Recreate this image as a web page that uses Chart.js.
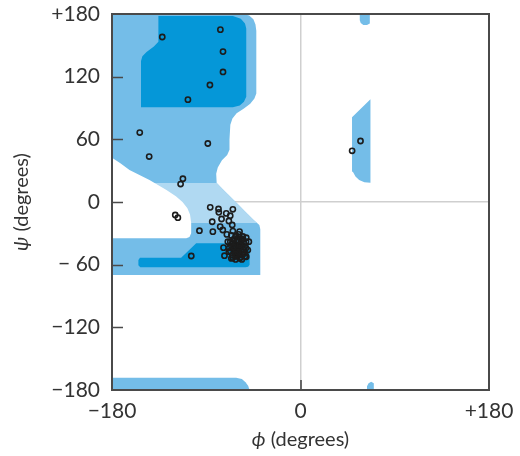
<!DOCTYPE html>
<html>
<head>
<meta charset="utf-8">
<script src="https://cdn.jsdelivr.net/npm/chart.js@4.4.1/dist/chart.umd.min.js"></script>
<style>
  html, body { margin: 0; padding: 0; background: #fff; }
  #wrap { width: 520px; height: 456px; }
</style>
</head>
<body>
<div id="wrap"><canvas id="rama"></canvas></div>
<script>
// ---- axes ----
const phiTicks = [-180, 0, 180];
const phiTickLabels = ["\u2212180", "0", "+180"];
const psiTicks = [-180, -120, -60, 0, 60, 120, 180];
const psiTickLabels = ["\u2212180", "\u2212120", "\u2212 60", "0", "60", "120", "+180"];

// ---- allowed regions, [phi, psi] outlines in degrees ----
const allowedLeft = [
  [-180, 180], [-55, 180], [-49, 178.5], [-45, 175], [-43, 170], [-42.2, 164],
  [-42.2, 104], [-44, 99], [-48, 94], [-54, 89.5], [-61, 85], [-65, 80], [-67, 74], [-67.8, 60],
  [-67.8, 50], [-70, 45], [-75, 40], [-79, 33], [-80.5, 27], [-80.2, 21], [-79.9, 18.2],
  [-74, 12], [-67, 5], [-60, -2], [-52, -10], [-45, -17], [-41.5, -20.1],
  [-39.3, -22], [-38.4, -26], [-38.4, -70], [-180, -70]
];
const allowedBottom = [
  [-180, -180], [-180, -168.2], [-61.4, -168.2], [-56, -169.5], [-52.5, -172.5], [-50, -176], [-48.6, -180]
];
const allowedLeftHanded = [
  [49.2, 81.1], [66.8, 98.3], [66.8, 18.5], [61, 19], [56, 21], [52.5, 24.5], [50, 29], [49.2, 34]
];
const allowedTopRight = [
  [56.6, 181], [56.6, 174], [57.5, 171.5], [60, 169.5], [63.5, 169.5], [66.2, 171], [66.2, 181]
];
const allowedBottomRight = [
  [63.5, -181], [63.5, -176.5], [65, -173.5], [67.5, -172], [70, -173.5], [70, -181]
];
const bridgeRegion = [
  [-180, 18.2], [-79.9, 18.2], [-74, 12], [-67, 5], [-60, -2], [-52, -10], [-45, -17],
  [-41.5, -20.1], [-180, -20.1]
];
const coreBeta = [
  [-135.7, 178], [-135.7, 153.5], [-140, 149], [-147, 143.5], [-151, 139.5], [-152.3, 135],
  [-152.3, 90.7], [-64.6, 90.7], [-58, 92.5], [-54, 96], [-51.8, 100.8], [-51.8, 166],
  [-53, 171], [-57, 175.5], [-64.6, 178]
];
const coreAlpha = [
  [-154.8, -55.5], [-153.3, -53.3], [-114, -53.3], [-99.6, -39.6], [-53, -39.6], [-50, -41],
  [-48.6, -44], [-48.6, -60], [-50, -62], [-52.5, -62.5], [-153, -62.5], [-154.8, -60.5]
];
const disallowedGap = [
  [-181, 43.1], [-172, 37], [-163.3, 30.6], [-144.2, 21.1], [-128, 11.5], [-119, 5.5],
  [-112.7, 0], [-108, -6], [-105.5, -12], [-104.4, -20.1], [-104.4, -30], [-106, -33.5],
  [-109, -34.6], [-181, -34.6]
];

// ---- residues (phi, psi) ----
const residuePhi = [
  -132, -76.5, -74, -74, -86.5, -107.5, -153.5, -88.5, -144.5, -112.3, -114.5, -119.6, -117.1, -104.3,
  49.3, 57.3,
  -86.2, -78.3, -78, -70.9, -64.6, -67.1, -75.4, -84.3, -68.4, -76.7, -96.5, -83.7, -74.2, -65.2,
  -70.3, -64.6, -58.2, -51.8, -49.3, -53.4, -50.3, -51.8, -58.2, -64.6, -72.6, -73.5, -68.4, -69.4,
  -66, -62, -58, -55, -64, -60, -67, -57, -63, -60, -54, -66, -62, -58, -56, -64, -61, -57, -54,
  -67, -63, -59, -55, -65, -61, -57, -53, -62, -59, -61, -65, -59, -55, -52, -52, -68, -60, -63,
  -57, -62, -56, -66, -53, -58, -64
];
const residuePsi = [
  158, 165, 144, 124.5, 112, 98, 66.5, 56, 43.5, 22.3, 17.2, -12.4, -15, -51.7,
  49, 58.4,
  -5.1, -6.7, -9.9, -10.9, -7, -13.1, -16.3, -18.9, -18.2, -23.6, -27.5, -28.4, -26.8, -22,
  -31, -27.8, -28.4, -34.2, -38, -42.8, -46, -52.4, -53.9, -53.3, -51.4, -43.7, -47.6, -38,
  -32, -33, -34, -36, -36, -37, -38, -39, -40, -41, -40, -42, -43, -44, -42, -45, -46, -47, -46,
  -47, -49, -50, -50, -51, -52, -53, -52, -55, -44, -38, -39, -31, -33, -38, -44, -44, -48, -35,
  -36, -50, -55, -54, -49, -41, -43
];

const MEDIUM = "#74bde8";
const LIGHT = "#b0d9f2";
const DARK = "#0597d8";
const LABEL_FONT = "Lato";

function region(outline, color, order) {
  return {
    data: outline.map(([x, y]) => ({ x, y })),
    showLine: true,
    fill: "shape",
    backgroundColor: color,
    borderColor: "rgba(0,0,0,0)",
    borderWidth: 0.5,
    pointRadius: 0,
    order,
  };
}

const framePlugin = {
  id: "frame",
  afterDatasetsDraw(chart) {
    const { ctx, chartArea: a, scales } = chart;
    ctx.save();
    ctx.strokeStyle = "#4a4a4a";
    ctx.lineWidth = 2;
    ctx.strokeRect(a.left, a.top, a.right - a.left, a.bottom - a.top);
    ctx.lineWidth = 1.6;
    ctx.beginPath();
    psiTicks.slice(1, -1).forEach((v) => {
      const y = Math.round(scales.y.getPixelForValue(v)) + 0.5;
      ctx.moveTo(a.left, y);
      ctx.lineTo(a.left + 11, y);
    });
    const x0 = Math.round(scales.x.getPixelForValue(0));
    ctx.moveTo(x0, a.bottom);
    ctx.lineTo(x0, a.bottom - 10);
    ctx.stroke();
    ctx.restore();
  },
  afterDraw(chart) {
    const { ctx, chartArea: a } = chart;
    const drawTitle = (sym, rest, cx, cy, angle) => {
      ctx.save();
      ctx.translate(cx, cy);
      ctx.rotate(angle);
      ctx.fillStyle = "#333";
      ctx.textBaseline = "middle";
      ctx.font = "italic 20px '" + LABEL_FONT + "'";
      const w1 = ctx.measureText(sym).width;
      ctx.font = "20px '" + LABEL_FONT + "'";
      const w2 = ctx.measureText(rest).width;
      let x = -(w1 + w2) / 2;
      ctx.textAlign = "left";
      ctx.font = "italic 20px '" + LABEL_FONT + "'";
      ctx.fillText(sym, x, 0);
      ctx.font = "20px '" + LABEL_FONT + "'";
      ctx.fillText(rest, x + w1, 0);
      ctx.restore();
    };
    drawTitle("\u03d5", " (degrees)", (a.left + a.right) / 2, 440, 0);
    drawTitle("\u03c8", " (degrees)", 22, (a.top + a.bottom) / 2, -Math.PI / 2);
  },
};

new Chart(document.getElementById("rama"), {
  type: "scatter",
  data: {
    datasets: [
      {
        data: residuePhi.map((x, i) => ({ x, y: residuePsi[i] })),
        pointRadius: 2.6,
        pointBorderWidth: 1.6,
        borderColor: "#1c1c1c",
        backgroundColor: "rgba(0,0,0,0)",
        order: 0,
      },
      region(disallowedGap, "#ffffff", 1),
      region(coreBeta, DARK, 2),
      region(coreAlpha, DARK, 2),
      region(bridgeRegion, LIGHT, 3),
      region(allowedLeft, MEDIUM, 4),
      region(allowedBottom, MEDIUM, 4),
      region(allowedLeftHanded, MEDIUM, 4),
      region(allowedTopRight, MEDIUM, 4),
      region(allowedBottomRight, MEDIUM, 4),
    ],
  },
  options: {
    responsive: true,
    maintainAspectRatio: false,
    animation: false,
    layout: { padding: { top: 14, right: 31, left: 0, bottom: 0 } },
    plugins: { legend: { display: false }, tooltip: { enabled: false } },
    scales: {
      x: {
        type: "linear",
        min: -180,
        max: 180,
        afterBuildTicks: (s) => { s.ticks = phiTicks.map((value) => ({ value })); },
        afterFit: (s) => { s.height = 66; s.paddingLeft = 0; s.paddingRight = 0; },
        border: { display: false },
        grid: {
          drawTicks: false,
          lineWidth: 1.5,
          color: (c) => (c.tick && c.tick.value === 0 ? "#cfcfcf" : "rgba(0,0,0,0)"),
        },
        ticks: {
          padding: 9,
          color: "#333",
          font: { family: LABEL_FONT, size: 21 },
          maxRotation: 0,
          callback: (v) => phiTickLabels[phiTicks.indexOf(v)],
        },
      },
      y: {
        type: "linear",
        min: -180,
        max: 180,
        afterBuildTicks: (s) => { s.ticks = psiTicks.map((value) => ({ value })); },
        afterFit: (s) => { s.width = 112; s.paddingTop = 0; s.paddingBottom = 0; },
        border: { display: false },
        grid: {
          drawTicks: false,
          lineWidth: 1.5,
          color: (c) => (c.tick && c.tick.value === 0 ? "#cfcfcf" : "rgba(0,0,0,0)"),
        },
        ticks: {
          padding: 12,
          color: "#333",
          font: { family: LABEL_FONT, size: 21 },
          callback: (v) => psiTickLabels[psiTicks.indexOf(v)],
        },
      },
    },
  },
  plugins: [framePlugin],
});
</script>
</body>
</html>
